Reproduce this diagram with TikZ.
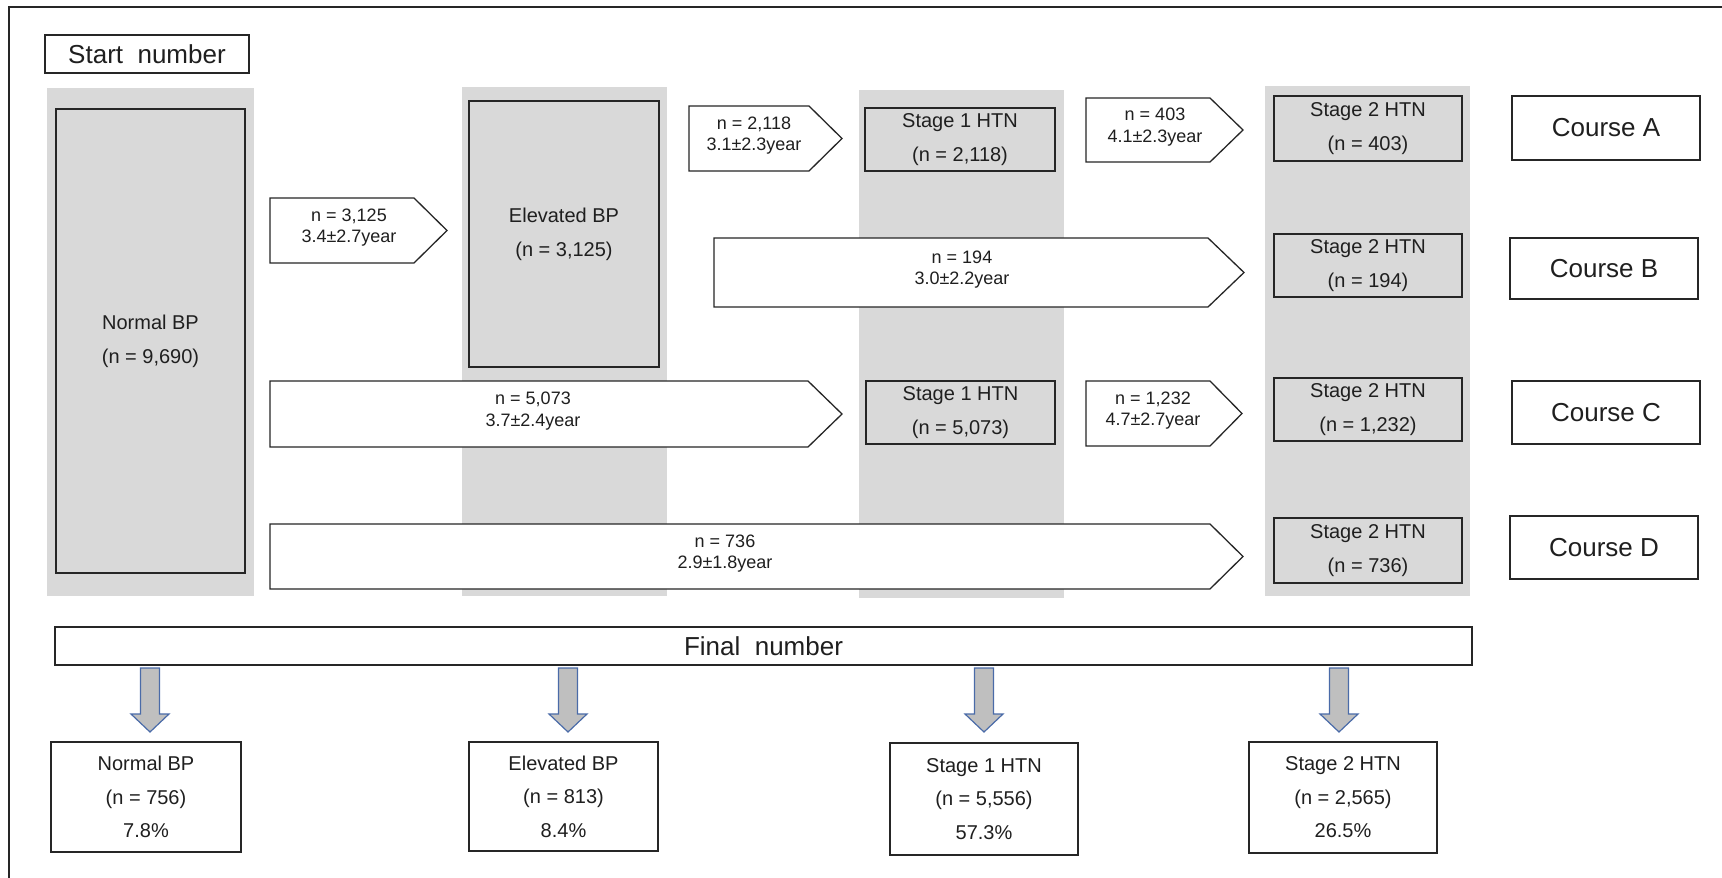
\documentclass[tikz,border=0pt]{standalone}
\usepackage{fontspec}
\setmainfont{Liberation Sans}
\definecolor{bggray}{HTML}{D9D9D9}
\definecolor{linecol}{HTML}{262626}
\definecolor{txtcol}{HTML}{1F1F1F}
\definecolor{dafill}{HTML}{BFBFBF}
\definecolor{dadraw}{HTML}{4A6BA8}
\newcommand\mkbox[7]{\node[#2, minimum width={#5-#3}, minimum height={#6-#4}] (#1) at ({(#3+#5)/2},{(#4+#6)/2}) {#7};}
\newcommand\mkarrow[8]{%
  \draw[arrowshape] (#2,#3) -- (#5,#3) -- (#6,{(#3+#4)/2}) -- (#5,#4) -- (#2,#4) -- cycle;
  \node[arrtext] (#1) at (#7,{(#3+#4)/2-3}) {#8};}
\newcommand\mkdown[2]{%
  \draw[downarrow] ({#2-9.5},668) -- ({#2+9.5},668) -- ({#2+9.5},714) -- ({#2+19},714) -- (#2,732) -- ({#2-19},714) -- ({#2-9.5},714) -- cycle;
  \coordinate (#1) at (#2,732);}
\begin{document}
\begin{tikzpicture}[x=1pt,y=-1pt,
  graybox/.style={rectangle, draw=linecol, line width=1.3pt, fill=bggray, inner sep=0pt, align=center, text=txtcol, font=\fontsize{20}{34}\selectfont},
  whitebox/.style={rectangle, draw=linecol, line width=1.3pt, fill=white, inner sep=0pt, align=center, text=txtcol, font=\fontsize{20}{33.5}\selectfont},
  bigbox/.style={rectangle, draw=linecol, line width=1.3pt, fill=white, inner sep=0pt, align=center, text=txtcol, font=\fontsize{26}{30}\selectfont},
  arrowshape/.style={draw=linecol, line width=1.3pt, fill=white, line join=miter},
  arrtext/.style={inner sep=0pt, align=center, text=txtcol, font=\fontsize{18}{21.5}\selectfont},
  downarrow/.style={draw=dadraw, line width=1.2pt, fill=dafill, line join=miter},
  colbg/.style={fill=bggray}]
\useasboundingbox (0,0) rectangle (1722,878);
\fill[white] (0,0) rectangle (1722,878);
% frame
\draw[linecol, line width=1.3pt] (9,890) -- (9,7) -- (1730,7);
% start number
\mkbox{start}{bigbox}{45}{35}{249}{73}{Start\ \ number}
% gray columns
\fill[colbg] (47,88) rectangle (254,596);
\fill[colbg] (462,87) rectangle (667,596);
\fill[colbg] (859,90) rectangle (1064,598);
\fill[colbg] (1265,86) rectangle (1470,596);
% column boxes
\mkbox{normal}{graybox}{56}{109}{245}{573}{Normal BP\\(n = 9,690)}
\mkbox{elev}{graybox}{469}{101}{659}{367}{Elevated BP\\(n = 3,125)}
\mkbox{sa}{graybox}{865}{108}{1055}{171}{Stage 1 HTN\\(n = 2,118)}
\mkbox{sc}{graybox}{866}{381}{1055}{444}{Stage 1 HTN\\(n = 5,073)}
\mkbox{ta}{graybox}{1274}{96}{1462}{161}{Stage 2 HTN\\(n = 403)}
\mkbox{tb}{graybox}{1274}{234}{1462}{297}{Stage 2 HTN\\(n = 194)}
\mkbox{tc}{graybox}{1274}{378}{1462}{441}{Stage 2 HTN\\(n = 1,232)}
\mkbox{td}{graybox}{1274}{518}{1462}{583}{Stage 2 HTN\\(n = 736)}
% courses
\mkbox{ca}{bigbox}{1512}{96}{1700}{160}{Course A}
\mkbox{cb}{bigbox}{1510}{238}{1698}{299}{Course B}
\mkbox{cc}{bigbox}{1512}{381}{1700}{444}{Course C}
\mkbox{cd}{bigbox}{1510}{516}{1698}{579}{Course D}
% transition arrows
\mkarrow{a1}{270}{198}{263}{414}{447}{349}{n = 3,125\\3.4±2.7year}
\mkarrow{a2}{689}{106}{171}{809}{842}{754}{n = 2,118\\3.1±2.3year}
\mkarrow{a3}{1086}{98}{162}{1210}{1243}{1155}{n = 403\\4.1±2.3year}
\mkarrow{a4}{714}{238}{307}{1208}{1244}{962}{n = 194\\3.0±2.2year}
\mkarrow{a5}{270}{381}{447}{808}{842}{533}{n = 5,073\\3.7±2.4year}
\mkarrow{a6}{1086}{381}{446}{1210}{1242}{1153}{n = 1,232\\4.7±2.7year}
\mkarrow{a7}{270}{524}{589}{1210}{1243}{725}{n = 736\\2.9±1.8year}
% final number
\mkbox{final}{bigbox}{55}{627}{1472}{665}{Final\ \ number}
% down arrows
\mkdown{d1}{150}
\mkdown{d2}{568}
\mkdown{d3}{984}
\mkdown{d4}{1339}
% bottom boxes
\mkbox{b1}{whitebox}{51}{742}{241}{852}{Normal BP\\(n = 756)\\7.8\%}
\mkbox{b2}{whitebox}{469}{742}{658}{851}{Elevated BP\\(n = 813)\\8.4\%}
\mkbox{b3}{whitebox}{890}{743}{1078}{855}{Stage 1 HTN\\(n = 5,556)\\57.3\%}
\mkbox{b4}{whitebox}{1249}{742}{1437}{853}{Stage 2 HTN\\(n = 2,565)\\26.5\%}
\end{tikzpicture}
\end{document}
